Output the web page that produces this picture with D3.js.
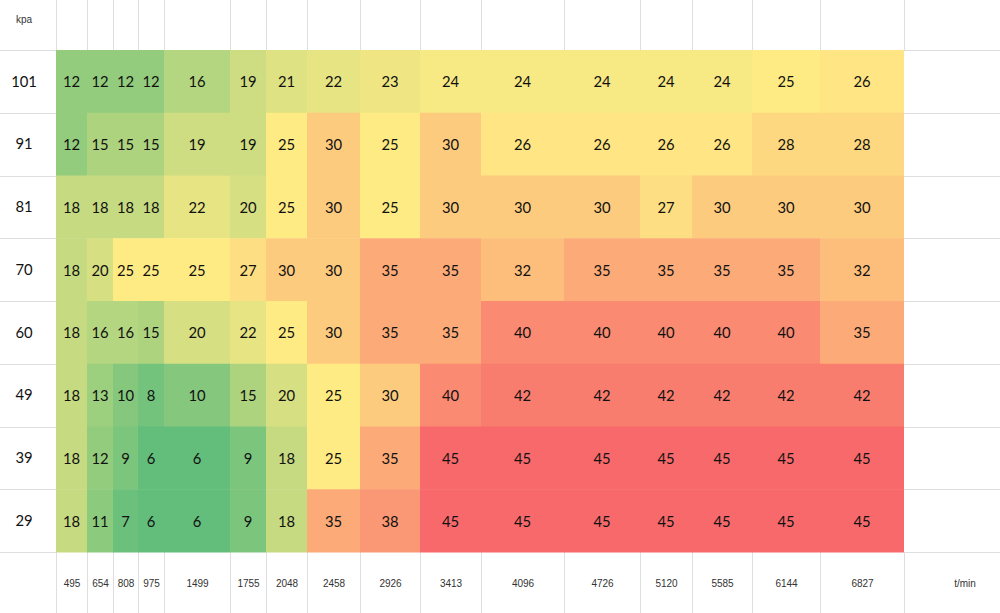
<!DOCTYPE html>
<html>
<head>
<meta charset="utf-8">
<script src="https://cdn.jsdelivr.net/npm/d3@7"></script>
<style>
html, body { margin: 0; padding: 0; background: #fff; }
svg { display: block; }
.domain { display: none; }
</style>
</head>
<body>
<script>
const rpm = ['495', '654', '808', '975', '1499', '1755', '2048', '2458', '2926', '3413', '4096', '4726', '5120', '5585', '6144', '6827'];
const kpa = ['101', '91', '81', '70', '60', '49', '39', '29'];

const row101 = [12, 12, 12, 12, 16, 19, 21, 22, 23, 24, 24, 24, 24, 24, 25, 26];
const row91 = [12, 15, 15, 15, 19, 19, 25, 30, 25, 30, 26, 26, 26, 26, 28, 28];
const row81 = [18, 18, 18, 18, 22, 20, 25, 30, 25, 30, 30, 30, 27, 30, 30, 30];
const row70 = [18, 20, 25, 25, 25, 27, 30, 30, 35, 35, 32, 35, 35, 35, 35, 32];
const row60 = [18, 16, 16, 15, 20, 22, 25, 30, 35, 35, 40, 40, 40, 40, 40, 35];
const row49 = [18, 13, 10, 8, 10, 15, 20, 25, 30, 40, 42, 42, 42, 42, 42, 42];
const row39 = [18, 12, 9, 6, 6, 9, 18, 25, 35, 45, 45, 45, 45, 45, 45, 45];
const row29 = [18, 11, 7, 6, 6, 9, 18, 35, 38, 45, 45, 45, 45, 45, 45, 45];
const rows = [row101, row91, row81, row70, row60, row49, row39, row29];

// column widths of the sheet, they are not even
const width = 1000, height = 613;
const margin = { top: 50, bottom: 552, left: 56 };
const colEdges = [56, 87, 113, 138, 164, 230, 266, 307, 360, 420, 481, 564, 640, 692, 752, 820, 904];
const gridColor = '#dedede';

const svg = d3.select('body').append('svg')
    .attr('width', width)
    .attr('height', height);

const xLeft = d3.scaleOrdinal(rpm, colEdges.slice(0, -1));
const xRight = d3.scaleOrdinal(rpm, colEdges.slice(1));
const xCenter = d3.scaleOrdinal(rpm, rpm.map(d => (xLeft(d) + xRight(d)) / 2));
const y = d3.scaleBand().domain(kpa).range([margin.top, margin.bottom]);

// same green / yellow / red as the spreadsheet rule
const color = d3.scaleLinear()
    .domain([6, 25, 45])
    .range(['#63be7b', '#ffeb84', '#f8696b']);

// grid lines in the white margins
const lastEdge = colEdges[colEdges.length - 1];
const grid = svg.append('g').attr('stroke', gridColor).attr('stroke-width', 1);
colEdges.forEach(e => {
    grid.append('line').attr('x1', e + 0.5).attr('x2', e + 0.5).attr('y1', 0).attr('y2', margin.top);
    grid.append('line').attr('x1', e + 0.5).attr('x2', e + 0.5).attr('y1', margin.bottom).attr('y2', height);
});
kpa.concat(['end']).forEach(k => {
    const yPos = Math.round(k === 'end' ? margin.bottom : y(k)) + 0.5;
    grid.append('line').attr('x1', 0).attr('x2', margin.left).attr('y1', yPos).attr('y2', yPos);
    grid.append('line').attr('x1', lastEdge).attr('x2', width).attr('y1', yPos).attr('y2', yPos);
});

const cells = kpa.flatMap((k, i) => rpm.map((r, j) => ({ k: k, r: r, value: rows[i][j] })));

svg.append('g').selectAll('rect')
    .data(cells)
    .join('rect')
    .attr('x', d => xLeft(d.r))
    .attr('y', d => y(d.k))
    .attr('width', d => xRight(d.r) - xLeft(d.r))
    .attr('height', y.bandwidth() + 0.5)
    .attr('fill', d => color(d.value));

svg.append('g').selectAll('text')
    .data(cells)
    .join('text')
    .attr('x', d => xCenter(d.r))
    .attr('y', d => y(d.k) + y.bandwidth() / 2)
    .attr('text-anchor', 'middle')
    .attr('dominant-baseline', 'central')
    .attr('font-family', 'Lato')
    .attr('font-size', 14.8)
    .attr('fill', '#111')
    .text(d => d.value);

// row labels
const yAxis = d3.axisLeft(y).tickSize(0).tickPadding(0);
const gy = svg.append('g').attr('transform', 'translate(38,0)').call(yAxis);
gy.selectAll('text')
    .attr('font-family', 'Lato')
    .attr('font-size', 14.8)
    .attr('fill', '#111')
    .attr('text-anchor', 'middle')
    .attr('x', -14)
    .attr('dy', '0.35em');

// rpm labels along the bottom
const xAxis = d3.axisBottom(xCenter).tickSize(0).tickPadding(0);
const gx = svg.append('g').attr('transform', 'translate(0,580)').call(xAxis);
gx.selectAll('text')
    .attr('font-family', 'Liberation Sans')
    .attr('font-size', 10)
    .attr('fill', '#333');

svg.append('text')
    .attr('x', 24).attr('y', 23)
    .attr('text-anchor', 'middle')
    .attr('font-family', 'Liberation Sans')
    .attr('font-size', 10)
    .attr('fill', '#333')
    .text('kpa');

svg.append('text')
    .attr('x', 965).attr('y', 587)
    .attr('text-anchor', 'middle')
    .attr('font-family', 'Liberation Sans')
    .attr('font-size', 10)
    .attr('fill', '#333')
    .text('t/min');
</script>
</body>
</html>
